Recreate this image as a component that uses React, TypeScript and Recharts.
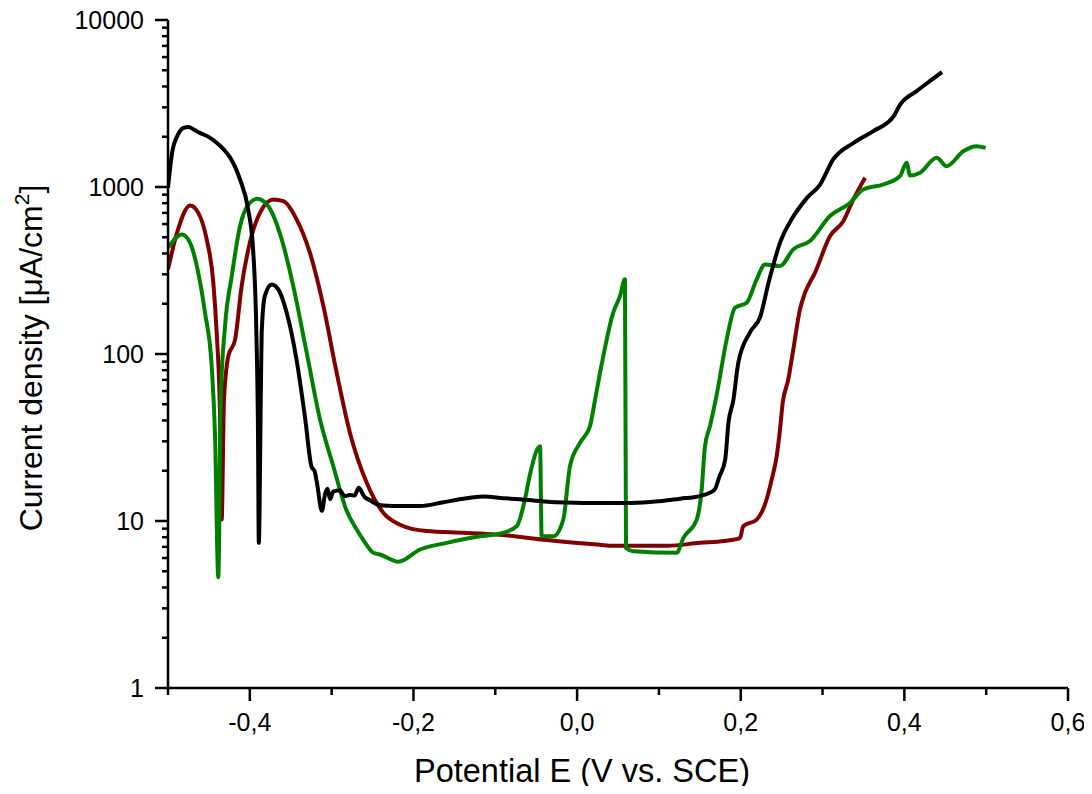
import { LineChart, Line, XAxis, YAxis } from "recharts";

// polarisation curves, [E (V vs. SCE), current density µA/cm²]
const blackCurve: [number, number][] = [
  [-0.5, 990], [-0.495, 1600], [-0.488, 2050], [-0.481, 2260], [-0.475, 2290],
  [-0.468, 2200], [-0.461, 2110], [-0.45, 1990], [-0.4405, 1840], [-0.432, 1680],
  [-0.424, 1500], [-0.412, 1110], [-0.402, 733], [-0.396, 422], [-0.392, 134],
  [-0.39, 34], [-0.389, 7.4], [-0.3865, 60], [-0.3855, 134], [-0.3817, 222],
  [-0.3733, 261], [-0.365, 243], [-0.355, 177], [-0.343, 93], [-0.3326, 42],
  [-0.3244, 21], [-0.321, 20], [-0.318, 17], [-0.312, 11.5], [-0.308, 14.5],
  [-0.305, 15.6], [-0.302, 13.5], [-0.298, 15], [-0.29, 15.3], [-0.284, 14.1],
  [-0.278, 14.3], [-0.272, 14.2], [-0.267, 15.8], [-0.26, 14.0], [-0.253, 13.3],
  [-0.245, 12.6], [-0.237, 12.4], [-0.215, 12.3], [-0.192, 12.3], [-0.165, 12.9],
  [-0.139, 13.6], [-0.115, 14.0], [-0.09, 13.7], [-0.07, 13.5], [-0.04, 13.1],
  [-0.013, 12.9], [0.028, 12.8], [0.061, 12.8], [0.089, 13.0], [0.126, 13.6],
  [0.15, 14.1], [0.168, 15.4], [0.174, 18.5], [0.181, 23.3], [0.185, 38.7],
  [0.191, 53], [0.197, 88.5], [0.211, 134], [0.224, 168], [0.234, 267],
  [0.248, 463], [0.262, 638], [0.281, 861], [0.297, 1035], [0.313, 1462],
  [0.338, 1840], [0.362, 2160], [0.387, 2655], [0.395, 3120], [0.415, 3750],
  [0.431, 4300], [0.446, 4870],
];

const redCurve: [number, number][] = [
  [-0.5, 321], [-0.489, 532], [-0.473, 775], [-0.463, 700], [-0.4527, 485],
  [-0.4446, 267], [-0.4405, 134], [-0.4364, 42.5], [-0.4344, 10.2], [-0.4316, 53],
  [-0.4263, 97], [-0.418, 122], [-0.41, 255], [-0.4, 463], [-0.3876, 700],
  [-0.3713, 841], [-0.359, 822], [-0.3427, 638], [-0.3265, 403], [-0.31, 193],
  [-0.2938, 77], [-0.2776, 33.7], [-0.257, 16.9], [-0.2369, 11.2], [-0.2165, 9.5],
  [-0.1838, 8.7], [-0.139, 8.5], [-0.0983, 8.3], [-0.0372, 7.7], [0.028, 7.2],
  [0.044, 7.1], [0.11, 7.1], [0.15, 7.4], [0.18, 7.6], [0.199, 7.9],
  [0.2031, 9.3], [0.2195, 10.2], [0.2317, 13.5], [0.2378, 17.7], [0.244, 24.5],
  [0.248, 35.3], [0.2513, 51], [0.258, 70], [0.2642, 106], [0.2724, 185],
  [0.2785, 232], [0.2907, 306], [0.309, 507], [0.3253, 624], [0.3376, 841],
  [0.352, 1136],
];

const greenCurve: [number, number][] = [
  [-0.5, 432], [-0.483, 520], [-0.473, 463], [-0.463, 306], [-0.4548, 177],
  [-0.4466, 84.5], [-0.4426, 33.7], [-0.4385, 4.6], [-0.4356, 53], [-0.4303, 147],
  [-0.4221, 292], [-0.412, 582], [-0.4, 803], [-0.3909, 849], [-0.3774, 767],
  [-0.361, 485], [-0.3469, 255], [-0.3305, 102], [-0.3142, 40.6], [-0.298, 21.3],
  [-0.2816, 11.5], [-0.2694, 8.9], [-0.2613, 7.7], [-0.249, 6.45], [-0.2409, 6.3],
  [-0.2185, 5.7], [-0.192, 6.75], [-0.1594, 7.4], [-0.1187, 8.1], [-0.0942, 8.4],
  [-0.0738, 9.3], [-0.0637, 13.5], [-0.0576, 19], [-0.0453, 28], [-0.0433, 8.1],
  [-0.0291, 8.1], [-0.0169, 10.2], [-0.0087, 21.3], [0.0036, 29.4], [0.0158, 37],
  [0.0219, 53], [0.028, 77], [0.0442, 177], [0.0524, 222], [0.0585, 280],
  [0.0598, 6.9], [0.0687, 6.6], [0.1217, 6.45], [0.1298, 7.9], [0.1462, 10.2],
  [0.1523, 15.5], [0.1563, 28], [0.1624, 37], [0.1706, 57], [0.1828, 122],
  [0.193, 189], [0.2073, 203], [0.2195, 280], [0.2297, 344], [0.248, 336],
  [0.2642, 423], [0.2846, 475], [0.309, 670], [0.3335, 803], [0.3498, 966],
  [0.3742, 1035], [0.3946, 1161], [0.4028, 1397], [0.4069, 1170], [0.4191, 1216],
  [0.4395, 1497], [0.4517, 1333], [0.472, 1637], [0.4884, 1754], [0.4994, 1715],
];

const xTicks = [-0.5, -0.4, -0.3, -0.2, -0.1, 0, 0.1, 0.2, 0.3, 0.4, 0.5, 0.6];
const xMajor = [-0.4, -0.2, 0, 0.2, 0.4, 0.6];
const yMajor = [1, 10, 100, 1000, 10000];
const yMinor = [
  2, 3, 4, 5, 6, 7, 8, 9,
  20, 30, 40, 50, 60, 70, 80, 90,
  200, 300, 400, 500, 600, 700, 800, 900,
  2000, 3000, 4000, 5000, 6000, 7000, 8000, 9000,
];

const FONT = "'Liberation Sans', Arial, sans-serif";
const toRows = (c: [number, number][]) => c.map(([e, i]) => ({ e, i }));

function XTick({ x, y, payload }: any) {
  const v = payload.value;
  const major = xMajor.some((m) => Math.abs(m - v) < 1e-6);
  return (
    <g>
      <line x1={x} x2={x} y1={y} y2={y + (major ? 13 : 7)} stroke="#000" strokeWidth={2.5} />
      {major && (
        <text x={x} y={y + 43} textAnchor="middle" fontSize={25} fontFamily={FONT} fill="#000">
          {v.toFixed(1).replace(".", ",")}
        </text>
      )}
    </g>
  );
}

function YTick({ x, y, payload }: any) {
  const v = payload.value;
  const major = yMajor.includes(v);
  return (
    <g>
      <line x1={x - (major ? 13 : 6)} x2={x} y1={y} y2={y} stroke="#000" strokeWidth={2.5} />
      {major && (
        <text x={x - 24} y={y} dy="0.36em" textAnchor="end" fontSize={25} fontFamily={FONT} fill="#000">
          {v}
        </text>
      )}
    </g>
  );
}

// rotated y title with a real superscript 2
function YTitle({ viewBox }: any) {
  const cx = viewBox.x + 42;
  const cy = viewBox.y + viewBox.height / 2 + 4;
  return (
    <text
      x={cx}
      y={cy}
      transform={`rotate(-90 ${cx} ${cy})`}
      textAnchor="middle"
      fontSize={32}
      fontFamily={FONT}
      fill="#000"
    >
      Current density [μA/cm
      <tspan fontSize={21} dy={-13}>2</tspan>
      <tspan dy={13}>]</tspan>
    </text>
  );
}

const lineProps = {
  dataKey: "i",
  type: "monotoneX" as const,
  strokeWidth: 4,
  dot: false,
  strokeLinejoin: "round" as const,
  isAnimationActive: false,
};

export default function App() {
  return (
    <div style={{ margin: -8 }}>
      <LineChart
        width={1092}
        height={794}
        margin={{ top: 20, right: 24, bottom: 0, left: 0 }}
        style={{ fontFamily: FONT }}
      >
        <XAxis
          dataKey="e"
          type="number"
          domain={[-0.5, 0.6]}
          ticks={xTicks}
          interval={0}
          height={106}
          tickSize={0}
          tickMargin={0}
          tickLine={false}
          tick={<XTick />}
          axisLine={{ stroke: "#000", strokeWidth: 2.5 }}
          allowDataOverflow
          label={{
            value: "Potential E (V vs. SCE)",
            position: "insideBottom",
            offset: 12,
            dx: -36,
            fontSize: 32.5,
            fill: "#000",
            fontFamily: FONT,
          }}
        />
        <YAxis
          type="number"
          scale="log"
          domain={[1, 10000]}
          ticks={[...yMajor, ...yMinor].sort((a, b) => a - b)}
          interval={0}
          width={168}
          tickSize={0}
          tickMargin={0}
          tickLine={false}
          tick={<YTick />}
          axisLine={{ stroke: "#000", strokeWidth: 2.5 }}
          allowDataOverflow
          label={{ content: <YTitle /> }}
        />
        <Line {...lineProps} data={toRows(redCurve)} stroke="#800000" />
        <Line {...lineProps} data={toRows(greenCurve)} stroke="#008000" />
        <Line {...lineProps} data={toRows(blackCurve)} stroke="#000000" />
      </LineChart>
    </div>
  );
}
